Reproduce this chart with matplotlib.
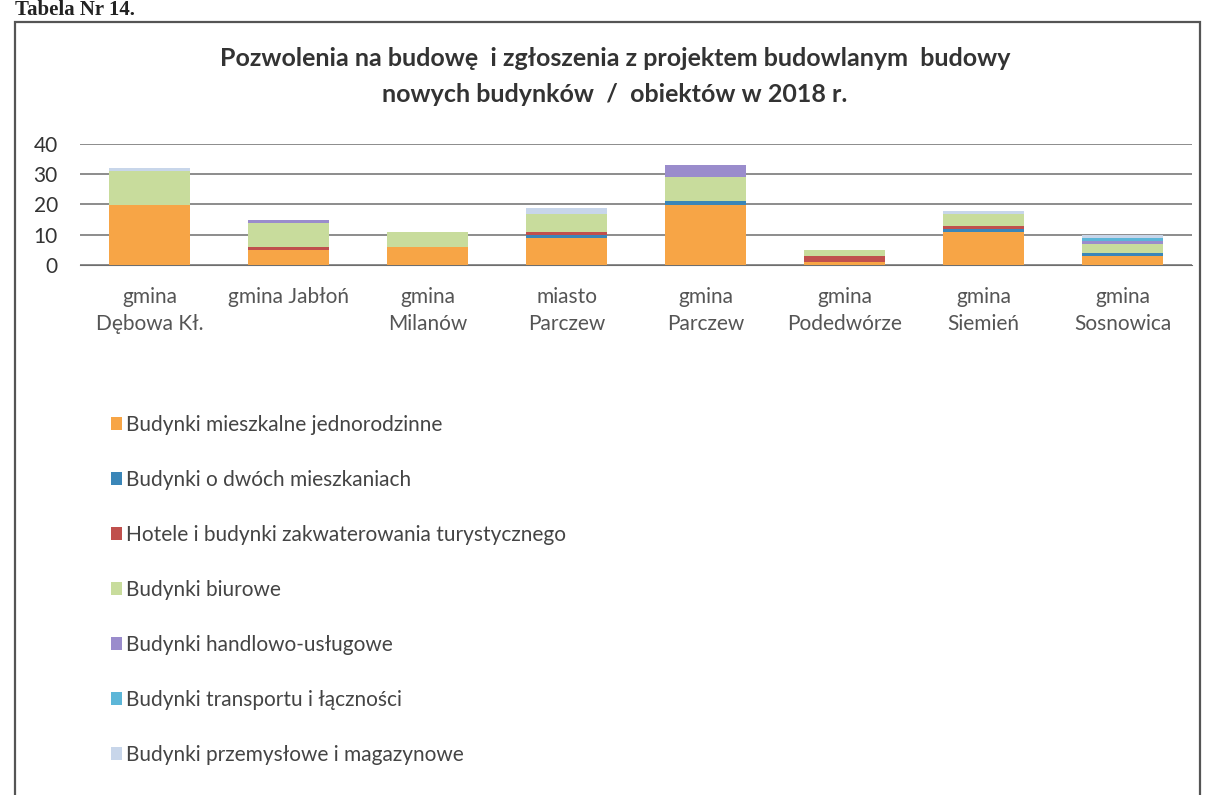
import numpy as np
import matplotlib.pyplot as plt
from matplotlib.patches import Rectangle

plt.rcParams['font.family'] = ['Lato', 'DejaVu Sans']

# data
gminy = ['gmina\nDębowa Kł.', 'gmina Jabłoń', 'gmina\nMilanów', 'miasto\nParczew',
         'gmina\nParczew', 'gmina\nPodedwórze', 'gmina\nSiemień', 'gmina\nSosnowica']
series = ['Budynki mieszkalne jednorodzinne', 'Budynki o dwóch mieszkaniach',
          'Hotele i budynki zakwaterowania turystycznego', 'Budynki biurowe',
          'Budynki handlowo-usługowe', 'Budynki transportu i łączności',
          'Budynki przemysłowe i magazynowe']
jednorodzinne = [20, 5, 6, 9, 20, 1, 11, 3]
dwoch = [0, 0, 0, 1, 1, 0, 1, 1]
hotele = [0, 1, 0, 1, 0, 2, 1, 0]
biurowe = [11, 8, 5, 6, 8, 2, 4, 3]
handlowe = [0, 1, 0, 0, 4, 0, 0, 1]
transport = [0, 0, 0, 0, 0, 0, 0, 1]
przemyslowe = [1, 0, 0, 2, 0, 0, 1, 1]
values = [jednorodzinne, dwoch, hotele, biurowe, handlowe, transport, przemyslowe]
colors = ['#f7a546', '#3a86b8', '#c0504d', '#c8dc9c', '#9a8ccc', '#5cb6d8', '#c8d6ea']

fig = plt.figure(figsize=(12.08, 7.95), dpi=100)
ax = fig.add_axes([80 / 1208, 1 - 265 / 795, 1112 / 1208, 121 / 795])

x = np.arange(len(gminy))
bottom = np.zeros(len(gminy))
handles = []
for vals, col, name in zip(values, colors, series):
    b = ax.bar(x, vals, 0.58, bottom=bottom, color=col, label=name, zorder=3)
    handles.append(b)
    bottom += np.array(vals)

ax.set_xlim(-0.5, len(gminy) - 0.5)
ax.set_ylim(0, 40)
ax.set_yticks([0, 10, 20, 30, 40])
ax.yaxis.grid(True, color='#6e6e6e', lw=1.1, zorder=0)
for s in ['top', 'right', 'left']:
    ax.spines[s].set_visible(False)
ax.spines['bottom'].set_color('#6e6e6e')
ax.tick_params(axis='y', length=0, labelsize=15, colors='#333333', pad=16)
ax.tick_params(axis='x', length=0, pad=16)
ax.set_xticks(x)
ax.set_xticklabels(gminy, fontsize=15, color='#555555', linespacing=1.45, va='top')

fig.text(0.509, 1 - 58 / 795, 'Pozwolenia na budowę  i zgłoszenia z projektem budowlanym  budowy',
         ha='center', va='center', fontsize=18, fontweight='bold', color='#333333')
fig.text(0.509, 1 - 95 / 795, 'nowych budynków  /  obiektów w 2018 r.',
         ha='center', va='center', fontsize=18, fontweight='bold', color='#333333')

fig.legend(handles=handles, labels=series, loc='upper left',
           bbox_to_anchor=(92 / 1208, 1 - 396 / 795), frameon=False,
           fontsize=15, handlelength=0.55, handleheight=0.55, handletextpad=0.2,
           labelspacing=1.68, labelcolor='#444444')

# scanned frame and caption
fig.patches.append(Rectangle((15 / 1208, -0.05), 1185 / 1208, 1.05 - 22 / 795,
                             transform=fig.transFigure, fill=False,
                             edgecolor='#555555', lw=1.6))
fig.text(15 / 1208, 1 - 10 / 795, 'Tabela Nr 14.', ha='left', va='center',
         fontsize=15, fontweight='bold', family='Liberation Serif', color='#222222')

fig.savefig('out.png', dpi=100)
